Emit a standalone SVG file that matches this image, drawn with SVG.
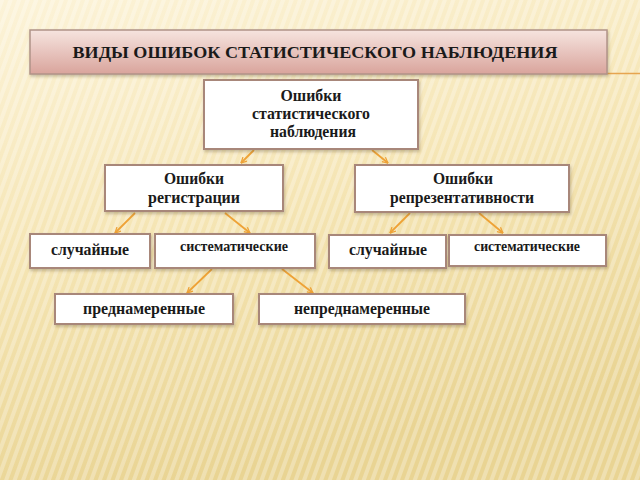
<svg xmlns="http://www.w3.org/2000/svg" width="640" height="480" viewBox="0 0 640 480">
<defs>
<linearGradient id="bg" x1="0" y1="0" x2="0.3" y2="1">
<stop offset="0" stop-color="#fcf3d8"/>
<stop offset="0.5" stop-color="#f5e5b4"/>
<stop offset="1" stop-color="#e9d493"/>
</linearGradient>
<pattern id="stripes" width="8" height="8" patternUnits="userSpaceOnUse" patternTransform="rotate(20)">
<rect width="4" height="8" fill="#ffffff" opacity="0.28"/>
</pattern>
<linearGradient id="title" x1="0" y1="0" x2="0" y2="1">
<stop offset="0" stop-color="#f6e4df"/>
<stop offset="1" stop-color="#d9a49c"/>
</linearGradient>
<filter id="sh" x="-10%" y="-20%" width="120%" height="150%">
<feDropShadow dx="1" dy="2" stdDeviation="1.5" flood-color="#6b5a3a" flood-opacity="0.35"/>
</filter>
<marker id="arr" viewBox="0 0 10 10" refX="9" refY="5" markerWidth="7" markerHeight="7" orient="auto" markerUnits="userSpaceOnUse">
<path d="M1,1 L9,5 L1,9" fill="none" stroke="#eea236" stroke-width="1.8"/>
</marker>
</defs>
<style>
.box{fill:#ffffff;stroke:#a8877a;stroke-width:2;filter:url(#sh)}
.t{font-family:"Liberation Serif","DejaVu Serif",serif;font-weight:bold;fill:#1a1a1a;text-anchor:middle}
.c{fill:none;stroke:#eea236;stroke-width:1.8;marker-end:url(#arr)}
</style>
<rect width="640" height="480" fill="url(#bg)"/>
<rect width="640" height="480" fill="url(#stripes)"/>

<g id="title-bar">
<line x1="606" y1="73.5" x2="640" y2="73.5" stroke="#e6a550" stroke-width="1.5"/>
<rect x="30" y="30" width="577" height="44" fill="url(#title)" stroke="#b09388" stroke-width="1.5" filter="url(#sh)"/>
<text class="t" x="315" y="57.5" font-size="17.5" textLength="485" lengthAdjust="spacingAndGlyphs">ВИДЫ ОШИБОК СТАТИСТИЧЕСКОГО НАБЛЮДЕНИЯ</text>
</g>

<g id="connectors">
<line class="c" x1="254" y1="150" x2="241" y2="163"/>
<line class="c" x1="372" y1="150" x2="388" y2="163"/>
<line class="c" x1="135" y1="213" x2="115" y2="233"/>
<line class="c" x1="225" y1="213" x2="250" y2="233"/>
<line class="c" x1="410" y1="213" x2="390" y2="233"/>
<line class="c" x1="479" y1="213" x2="503" y2="233"/>
<line class="c" x1="212" y1="269" x2="187" y2="293"/>
<line class="c" x1="282" y1="269" x2="313" y2="293"/>
</g>

<g id="root">
<rect class="box" x="204" y="80" width="214" height="69"/>
<text class="t" x="311" y="101" font-size="16.5" textLength="61" lengthAdjust="spacingAndGlyphs">Ошибки</text>
<text class="t" x="311" y="119" font-size="16.5" textLength="118" lengthAdjust="spacingAndGlyphs">статистического</text>
<text class="t" x="313" y="137" font-size="16.5" textLength="86" lengthAdjust="spacingAndGlyphs">наблюдения</text>
</g>

<g id="registration">
<rect class="box" x="105" y="165" width="178" height="46"/>
<text class="t" x="194" y="184" font-size="16.5" textLength="60" lengthAdjust="spacingAndGlyphs">Ошибки</text>
<text class="t" x="194" y="203" font-size="16.5" textLength="92" lengthAdjust="spacingAndGlyphs">регистрации</text>
</g>

<g id="representativeness">
<rect class="box" x="355" y="165" width="214" height="47"/>
<text class="t" x="463" y="184" font-size="16.5" textLength="60" lengthAdjust="spacingAndGlyphs">Ошибки</text>
<text class="t" x="462" y="203" font-size="16.5" textLength="144" lengthAdjust="spacingAndGlyphs">репрезентативности</text>
</g>

<g id="random-reg">
<rect class="box" x="30" y="234" width="120" height="34"/>
<text class="t" x="90" y="255" font-size="17.5" textLength="78" lengthAdjust="spacingAndGlyphs">случайные</text>
</g>

<g id="systematic-reg">
<rect class="box" x="155" y="234" width="160" height="34"/>
<text class="t" x="234" y="251" font-size="14" textLength="108" lengthAdjust="spacingAndGlyphs">систематические</text>
</g>

<g id="random-rep">
<rect class="box" x="329" y="235" width="117" height="33"/>
<text class="t" x="388" y="255" font-size="17.5" textLength="78" lengthAdjust="spacingAndGlyphs">случайные</text>
</g>

<g id="systematic-rep">
<rect class="box" x="449" y="235" width="157" height="31"/>
<text class="t" x="527" y="251" font-size="14" textLength="106" lengthAdjust="spacingAndGlyphs">систематические</text>
</g>

<g id="intentional">
<rect class="box" x="55" y="294" width="178" height="30"/>
<text class="t" x="144" y="313.5" font-size="16.5" textLength="122" lengthAdjust="spacingAndGlyphs">преднамеренные</text>
</g>

<g id="unintentional">
<rect class="box" x="259" y="294" width="206" height="30"/>
<text class="t" x="362" y="313.5" font-size="16.5" textLength="136" lengthAdjust="spacingAndGlyphs">непреднамеренные</text>
</g>
</svg>
